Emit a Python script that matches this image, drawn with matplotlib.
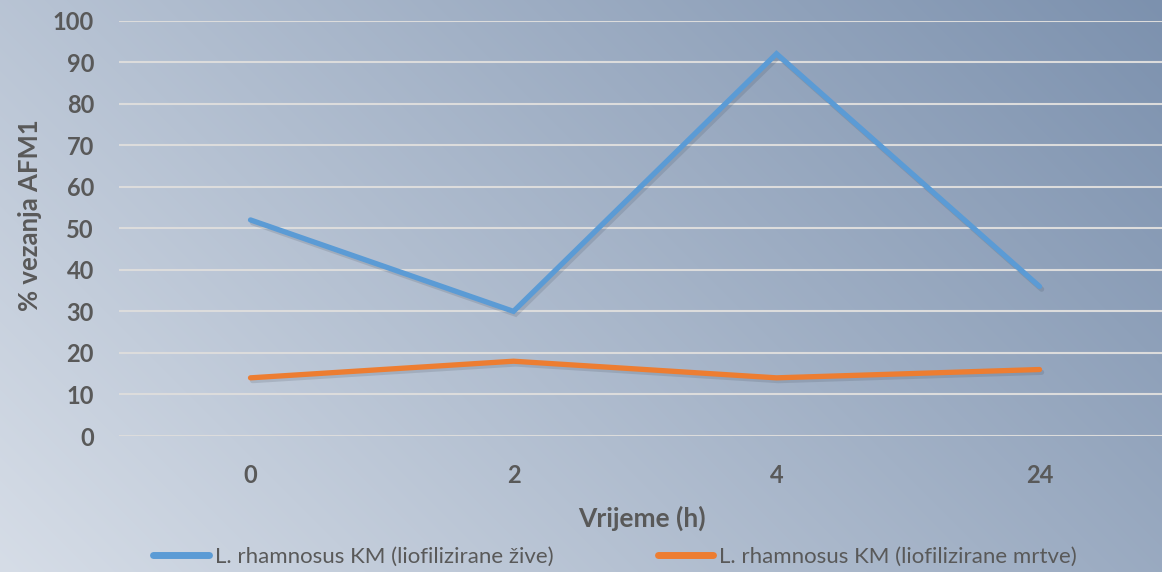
import numpy as np
import matplotlib
matplotlib.use("Agg")
import matplotlib.pyplot as plt
import matplotlib.patheffects as pe

categories = ["0", "2", "4", "24"]
zive = [52, 30, 92, 36]
mrtve = [14, 18, 14, 16]
labels = ["L. rhamnosus KM (liofilizirane žive)", "L. rhamnosus KM (liofilizirane mrtve)"]
yticks = list(range(0, 101, 10))

plt.rcParams['font.family'] = ['Lato', 'DejaVu Sans']
txt = '#595959'

W, H = 1162, 572
fig = plt.figure(figsize=(W / 100, H / 100), dpi=100)

# diagonal gradient background, light bottom-left to dark top-right
bg = fig.add_axes([0, 0, 1, 1], zorder=-1)
bg.axis('off')
xx, yy = np.meshgrid(np.arange(W), np.arange(H))
t = (xx + (H - yy)) / (W + H)
c0 = np.array([214, 221, 231]) / 255
c1 = np.array([124, 145, 174]) / 255
img = c0[None, None, :] * (1 - t[..., None]) + c1[None, None, :] * t[..., None]
bg.imshow(img, aspect='auto', extent=[0, 1, 0, 1], origin='upper')
bg.set_xlim(0, 1)
bg.set_ylim(0, 1)

ax = fig.add_axes([119 / W, 136 / H, (1171 - 119) / W, (436 - 20.5) / H])
ax.set_facecolor('none')
x = np.arange(len(categories))

shadow = [pe.SimpleLineShadow(offset=(1.5, -2), shadow_color='#303a48', alpha=0.15), pe.Normal()]
ax.plot(x, zive, color='#5B9BD5', lw=3.8, solid_capstyle='round', solid_joinstyle='miter',
        path_effects=shadow, label=labels[0], zorder=3)
ax.plot(x, mrtve, color='#ED7D31', lw=3.8, solid_capstyle='round', solid_joinstyle='miter',
        path_effects=shadow, label=labels[1], zorder=3)

ax.set_xlim(-0.5, 3.5)
ax.set_ylim(0, 100)
ax.set_yticks(yticks)
ax.set_xticks(x)
ax.set_xticklabels(categories)
ax.yaxis.grid(True, color='#DCDCDC', lw=1.5)
ax.set_axisbelow(True)
for s in ax.spines.values():
    s.set_visible(False)
ax.tick_params(axis='both', length=0, colors=txt, labelsize=17)
ax.tick_params(axis='y', pad=18)
ax.tick_params(axis='x', pad=20)
for lb in ax.get_xticklabels() + ax.get_yticklabels():
    lb.set_fontweight('bold')

fig.text(642 / W, 1 - 518 / H, "Vrijeme (h)", ha='center', va='center',
         fontsize=19, fontweight='bold', color=txt)
fig.text(30 / W, 1 - 215 / H, "% vezanja AFM1", ha='center', va='center', rotation=90,
         fontsize=18.5, fontweight='bold', color=txt)

leg = fig.legend(loc='center', bbox_to_anchor=(615 / W, 1 - 557 / H), ncol=2,
                 frameon=False, fontsize=16, handlelength=2.5, handletextpad=0.25,
                 columnspacing=4.7, labelcolor=txt)
for h in leg.get_lines():
    h.set_linewidth(5)
    h.set_path_effects([])
    h.set_solid_capstyle('round')

fig.savefig('out.png', dpi=100)
